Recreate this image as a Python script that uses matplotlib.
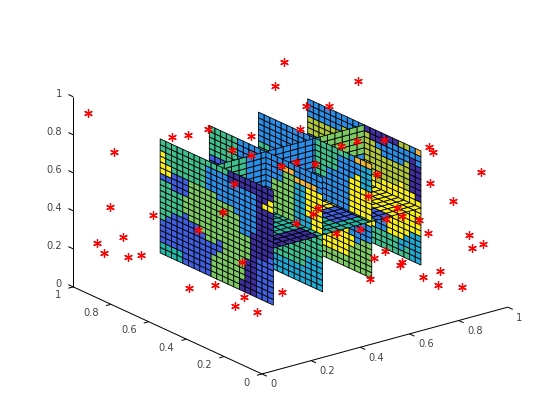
#!/usr/bin/env python3

import matplotlib
matplotlib.use("Agg")
import matplotlib.pyplot as plt
from mpl_toolkits.mplot3d.art3d import Poly3DCollection
from mpl_toolkits.mplot3d import proj3d
import numpy as np

# cell colours, one letter per level of the colormap
PALETTE = {
    "d": "#3e2e9e", "b": "#3f5fe0", "m": "#2b8ee6", "c": "#1fa8d2", "t": "#22b8a6",
    "g": "#3fbf8e", "l": "#7cc964", "o": "#b2c63a", "a": "#f2b53c", "y": "#f8ee1c",
}

# slices at x = const: one string per column (y 0.8 -> 0.2), rows run z 0.8 -> 0.2
slice_x02 = [
    "ggyyyybgggggggbbbbtt", "ggggyybggggggbbbbbtt", "gggggbbbggggbbbbbbtt", "gggggbbbggggbbbbbbtt",
    "gggggbbblllbbbbbbbbb", "ggggglllllllbbbbbbbb", "ggggglllllllbbbbbbbb", "gggggllllllllbbbbbbb",
    "gmmmmlllllllllbbbbbb", "gmmmmlllllllllbbllll", "gmmmmmlllllllbblllll", "gmmmmmllllllllllllll",
    "ddmmmmllllllllllllll", "ddmmmmmlllllllllllll", "ddmmmmmmmmlllllllldd", "ddmmmmmmmmlllldddddd",
    "ddmmmmmmmddddddddddd", "dddddddddddddbbbbbbb", "dddydddddddddbbbbbbb", "ddyyddddddddbbbbbbbb",
]
slice_x04 = [
    "gggggbbggggggggggggg", "gggggbbggggggggggggg", "gggggbbggggggggggggg", "ggggggaggggggggggggg",
    "ggggggaggggggggggggg", "mmmmmmmmmmmmmmmmmmmm", "mmmmmmmmmmmmmmmmmmmm", "mmmmmmmmmmmmmmmmmmmm",
    "mmmmmmmmmmmmmmmmmmmm", "mmmmmmmmmmmmmmmmmmmm", "mmmmmmmmmmmmmmmmmmmm", "mmmmllllllgggggggccc",
    "mmmmllllllgggggggccc", "mallllllllgggggggccc", "mallllllllgggggggccc", "mmacccccccgggggggccc",
    "mmacccccccgggggggccc", "mmayyyyyccgggggccccc", "mmayyyyyyygggggccccc", "mmmyyyyyyygggggccccc",
]
slice_x06 = [
    "mmmmmggggggggggggggg", "mmmmmggggggggggggggg", "mmmmmmmmmmmmmmmmmmmm", "mmmmmmmmmmmmmmmmmmmm",
    "mmmmmmmmmmmmmmmmmmmm", "mmmmmmmmmmmmmmmmmmmm", "mmmmmmmmmmmmmmmmmmmm", "mmmmmmmmmmmmmmmmmmmm",
    "mmmmmmmmmmmmmmmmmmmm", "mmmmmmmmmmmmmmmmmmmm", "ggggggmmmmttyyyyyyll", "ggggggmmmmttyyyyyyll",
    "ggggmmmmmmttyyyyyyll", "ggggmmmmmmttyyyyyyll", "gmmmmmmmmmmmyyyyyyll", "gmmmmmmmmmmmyyyyyyll",
    "mmmmyyyyyymmmmyyllll", "ammyyyyyyyymmmmlllll", "accccyyyyyymmmllllll", "accccyyyyyymmmllllll",
]
slice_x08 = [
    "mmmooobbbmmmmmmmmmmm", "mmmooommmmmmmmmmmmmm", "mmmooooommmmmmmmmmmm", "mmmooooommmmmmmmmmmm",
    "mmmooooommmmmmmmmmmm", "mmmooooommmmmmmmmmmm", "mmoooooommmmmmmmmmmm", "mmoooooommmmmmmmmmmm",
    "mmoooooommmmmmmmmmmm", "moooooommmmmmmmmmmmm", "dooooooyyyyyyyyyyggg", "ddooooooyyyyyyyyyggg",
    "ddmooooooyyyyyymmggg", "ddmmooooyyyyyyymmggg", "dmmmooooyyyyyyyyyggg", "dmmmooooyyyyyyyyyggg",
    "ommmoooyyyyyyyyyyccg", "ommoooooyyyyyyyyccgg", "mmddddddyyyyyyyccccc", "ammddddddyyyyyyccccc",
]
x_slices = [0.2, 0.4, 0.6, 0.8]
x_slice_cells = [slice_x02, slice_x04, slice_x06, slice_x08]

# slice at y = 0.5: one string per column (x 0.2 -> 0.8), rows run z 0.8 -> 0.2
slice_y05 = ["g" * 20] * 4 + ["m" * 20] * 10 + ["lllll" + "m" * 15] * 6

# slice at z = 0.5: one string per column (x 0.2 -> 0.8), rows run y 0.2 -> 0.8
slice_z05 = (
    ["ddd" + "t" * 17] * 6 + ["t" * 20]
    + ["tttttt" + "y" * 14] * 3
    + ["ttbbbb" + "y" * 14] * 4
    + ["bbb" + "y" * 17] * 2
    + ["y" * 20] * 4
)

# scattered sample points
star_x = [0.022, 0.091, 0.071, 0.246, 0.127, 0.018, 0.048, 0.146, 0.197, 0.324, 0.389, 0.471, 0.646, 0.570,
          0.646, 0.769, 0.829, 0.845, 0.577, 0.871, 0.781, 0.744, 0.809, 0.928, 0.857, 0.924, 0.879, 0.853,
          0.813, 0.600, 0.613, 0.933, 0.124, 0.226, 0.303, 0.521, 0.591, 0.684, 0.784, 0.887, 0.955, 0.009,
          0.038, 0.158, 0.120, 0.209, 0.313, 0.669, 0.732, 0.686, 0.801, 0.792, 0.887, 0.867, 0.756, 0.773,
          0.761, 0.752, 0.969, 0.854, 0.920, 0.977, 0.932, 0.802, 0.793, 0.891]
star_y = [0.95] + [0.9] * 21 + [0.7] * 4 + [0.5] * 15 + [0.4] + [0.3] * 12 + [0.1] * 12
star_z = [0.929, 0.723, 0.440, 0.338, 0.264, 0.271, 0.208, 0.152, 0.143, 0.721, 0.707, 0.713, 0.613, 0.566,
          0.513, 0.412, 0.412, 0.581, 0.383, 0.691, 0.953, 0.840, 0.805, 0.893, 0.577, 0.580, 0.693, 0.523,
          0.421, 0.665, 0.429, 0.314, 0.485, 0.541, 0.252, 0.380, 0.405, 0.274, 0.258, 0.273, 0.268, 0.265,
          0.318, 0.212, 0.177, 0.114, 0.182, 0.128, 0.252, 0.229, 0.171, 0.157, 0.061, 0.367, 0.881, 0.848,
          0.691, 0.429, 0.674, 0.562, 0.360, 0.292, 0.289, 0.214, 0.142, 0.096]

ticks = [0, 0.2, 0.4, 0.6, 0.8, 1]
tick_labels = ["0", "0.2", "0.4", "0.6", "0.8", "1"]

TEXT_COLOR = "#444444"
TEXT_SIZE = 7.1


def build_quads():
    y_down = np.linspace(0.8, 0.2, 21)
    y_up = np.linspace(0.2, 0.8, 21)
    x_up = np.linspace(0.2, 0.8, 21)
    z_down = np.linspace(0.8, 0.2, 21)
    quads = []
    colors = []
    for x0, cells in zip(x_slices, x_slice_cells):
        for c, column in enumerate(cells):
            for r, letter in enumerate(column):
                quads.append([(x0, y_down[c], z_down[r]), (x0, y_down[c + 1], z_down[r]),
                              (x0, y_down[c + 1], z_down[r + 1]), (x0, y_down[c], z_down[r + 1])])
                colors.append(PALETTE[letter])
    for c, column in enumerate(slice_y05):
        for r, letter in enumerate(column):
            quads.append([(x_up[c], 0.5, z_down[r]), (x_up[c + 1], 0.5, z_down[r]),
                          (x_up[c + 1], 0.5, z_down[r + 1]), (x_up[c], 0.5, z_down[r + 1])])
            colors.append(PALETTE[letter])
    for c, column in enumerate(slice_z05):
        for r, letter in enumerate(column):
            quads.append([(x_up[c], y_up[r], 0.5), (x_up[c + 1], y_up[r], 0.5),
                          (x_up[c + 1], y_up[r + 1], 0.5), (x_up[c], y_up[r + 1], 0.5)])
            colors.append(PALETTE[letter])
    return quads, colors


def put_label(ax, x, y, z, label, ha):
    # flat text at the projected spot, so the text box stays where it is drawn
    px, py, _ = proj3d.proj_transform(x, y, z, ax.get_proj())
    ax.text2D(px, py, label, transform=ax.transData, ha=ha, va="center", color=TEXT_COLOR, fontsize=TEXT_SIZE)


def draw_axes(ax):
    line = dict(color="black", lw=0.72, solid_capstyle="butt")
    ax.plot([0, 1], [0, 0], [0, 0], **line)
    ax.plot([0, 0], [0, 1], [0, 0], **line)
    ax.plot([0, 0], [1, 1], [0, 1], **line)
    for t, label in zip(ticks, tick_labels):
        ax.plot([t, t], [0, -0.026], [0, 0], **line)
        ax.plot([0, -0.02], [t, t], [0, 0], **line)
        ax.plot([0, 0], [1, 1.026], [t, t], **line)
        put_label(ax, t, -0.045, -0.034, label, "left")
        put_label(ax, -0.049, t, -0.028, label, "right")
        put_label(ax, 0, 1.0605, t - 0.0105, label, "right")


def main():
    fig = plt.figure(figsize=(5.6, 4.2), dpi=100)
    ax = fig.add_axes([22.9 / 560, 28.5 / 420, 521.2 / 560, 369.1 / 420], projection="3d", proj_type="ortho")
    # the plot box is stretched to fill the axes, so skip the square aspect
    ax.apply_aspect = lambda position=None: None
    ax.view_init(elev=30, azim=-127.5)
    ax.set_xlim(0, 1, view_margin=0)
    ax.set_ylim(0, 1, view_margin=0)
    ax.set_zlim(0, 1, view_margin=0)
    ax.set_box_aspect((1, 1, 1))
    ax.set_axis_off()

    quads, colors = build_quads()
    mesh = Poly3DCollection(quads, facecolors=colors, edgecolors="black", linewidths=0.6, antialiased=True)
    ax.add_collection3d(mesh)
    draw_axes(ax)
    ax.plot(star_x, star_y, star_z, linestyle="none", marker=(6, 2, 0), markersize=6.2, markeredgewidth=0.9,
            color="#ff0000", zorder=10)
    fig.savefig("out.png", dpi=100)


if __name__ == '__main__':
    main()
